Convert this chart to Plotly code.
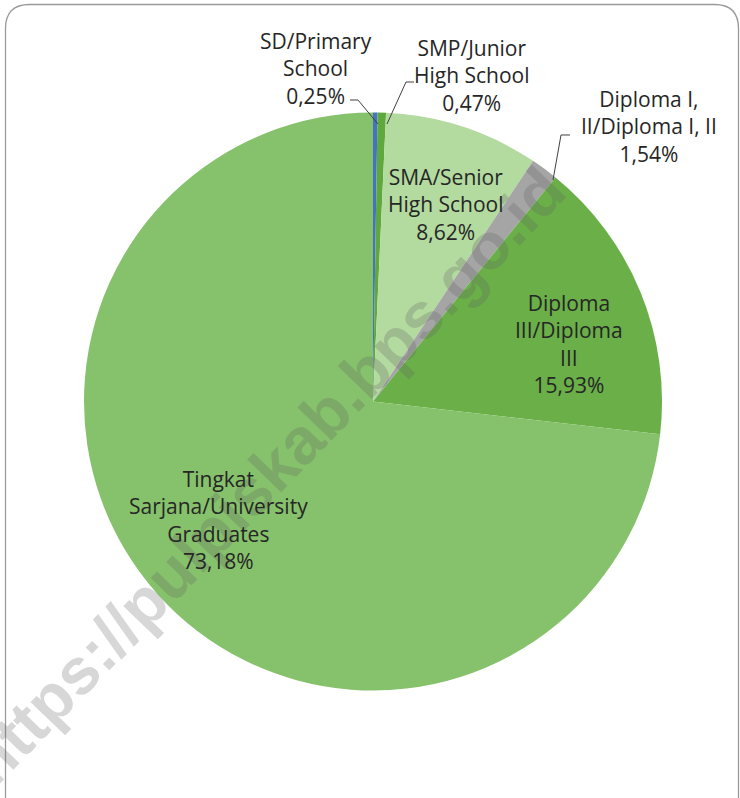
import plotly.graph_objects as go

# ---- data ----
categories = [
    "SD/Primary School",
    "SMP/Junior High School",
    "SMA/Senior High School",
    "Diploma I, II/Diploma I, II",
    "Diploma III/Diploma III",
    "Tingkat Sarjana/University Graduates",
]
label_lines = [
    "SD/Primary<br>School",
    "SMP/Junior<br>High School",
    "SMA/Senior<br>High School",
    "Diploma I,<br>II/Diploma I, II",
    "Diploma<br>III/Diploma<br>III",
    "Tingkat<br>Sarjana/University<br>Graduates",
]
values = [0.25, 0.47, 8.62, 1.54, 15.93, 73.18]
colors = ["#4472C4", "#5EA83D", "#B3DA9F", "#A5A5A5", "#6AAF48", "#86C16B"]

W, H = 740, 798

def px(x):
    return x / W

def py(y):
    return 1 - y / H

# pie geometry (pixels)
cx, cy, r = 373, 401.5, 289

fig = go.Figure()
fig.add_trace(go.Pie(
    labels=categories,
    values=values,
    marker=dict(colors=colors, line=dict(width=0)),
    sort=False,
    direction="clockwise",
    rotation=0,
    textinfo="none",
    hoverinfo="label+percent",
    showlegend=False,
    domain=dict(x=[px(cx - r), px(cx + r)], y=[py(cy + r), py(cy - r)]),
))

# label positions (pixel centres of text blocks)
label_pos = [(316, 68), (472, 75), (446, 204), (649, 126), (569, 344), (218, 520)]

annotations = []
# watermark
annotations.append(dict(
    text="https://pulpiskab.bps.go.id",
    x=px(265), y=py(476), xref="paper", yref="paper",
    showarrow=False, textangle=-46,
    font=dict(family="Liberation Sans", size=65, color="rgba(95,95,95,0.25)", weight="bold"),
    xanchor="center", yanchor="middle",
))
for lab, v, (lx, ly) in zip(label_lines, values, label_pos):
    annotations.append(dict(
        text=lab + "<br>" + f"{v:.2f}".replace(".", ",") + "%",
        x=px(lx), y=py(ly), xref="paper", yref="paper",
        showarrow=False, align="center",
        font=dict(family="Open Sans", size=21, color="#262626"),
        xanchor="center", yanchor="middle",
    ))

def path_px(points):
    s = ""
    for i, (x, y) in enumerate(points):
        s += ("M" if i == 0 else "L") + f"{px(x):.5f},{py(y):.5f} "
    return s

shapes = []
leader_color = "#404040"
for pts in [
    [(350, 100), (358, 100), (378, 124)],
    [(414, 82), (406, 82), (387, 124)],
    [(570, 135), (561, 135), (553, 180)],
]:
    shapes.append(dict(type="path", path=path_px(pts), xref="paper", yref="paper",
                       line=dict(color=leader_color, width=1)))

# rounded border of the chart area
x0, y0, x1, y1, rr = 5.5, 4.5, 738.5, 812, 24
border = (f"M{px(x0)},{py(y1)} L{px(x0)},{py(y0 + rr)} "
          f"Q{px(x0)},{py(y0)} {px(x0 + rr)},{py(y0)} "
          f"L{px(x1 - rr)},{py(y0)} "
          f"Q{px(x1)},{py(y0)} {px(x1)},{py(y0 + rr)} "
          f"L{px(x1)},{py(y1)}")
shapes.append(dict(type="path", path=border, xref="paper", yref="paper",
                   line=dict(color="#9a9a9a", width=1.3)))

fig.update_layout(
    width=W, height=H,
    margin=dict(l=0, r=0, t=0, b=0),
    paper_bgcolor="white",
    plot_bgcolor="white",
    annotations=annotations,
    shapes=shapes,
)

fig.write_html(
    "out.html",
    config={"displayModeBar": False},
    post_script="document.body.style.margin='0';document.body.style.overflow='hidden';",
)
